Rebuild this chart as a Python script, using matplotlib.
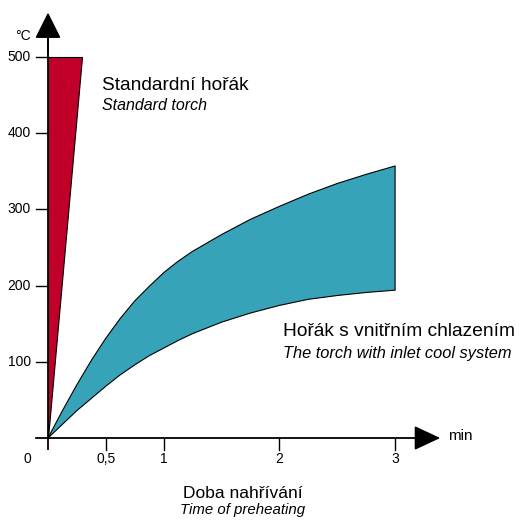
"""Heating time of standard torch vs. torch with inlet cooling."""
import matplotlib
matplotlib.use("Agg")
import matplotlib.pyplot as plt
import numpy as np

plt.rcParams["font.family"] = ["Liberation Sans", "DejaVu Sans"]

# standard torch: reaches 500 °C almost immediately
std_x = [0.0, 0.0, 0.29]
std_y = [0, 500, 500]

# torch with inlet cooling: band between two heating curves
cool_t = [0.0, 0.125, 0.25, 0.375, 0.5, 0.625, 0.75, 0.875, 1.0, 1.125, 1.25,
          1.5, 1.75, 2.0, 2.25, 2.5, 2.75, 3.0]
cool_upper = [0, 36, 70, 102, 131, 157, 180, 199, 217, 232, 245,
              267, 287, 304, 320, 334, 346, 357]
cool_lower = [0, 18, 36, 52, 68, 83, 96, 108, 118, 128, 137,
              152, 164, 174, 182, 187, 191, 194]

x_ticks = [0.5, 1, 2, 3]
x_tick_labels = ["0,5", "1", "2", "3"]
y_ticks = [100, 200, 300, 400, 500]

RED = "#c1002a"
TEAL = "#36a3b8"

W, H = 520, 520
X0, Y0 = 48, 438           # origin in pixels
PX_MIN = 115.7             # pixels per minute
PX_DEG = 0.762             # pixels per °C
XMAX, YMAX = 3.5, 560

fig = plt.figure(figsize=(5.2, 5.2), dpi=100)
ax = fig.add_axes([X0 / W, (H - Y0) / H, XMAX * PX_MIN / W, YMAX * PX_DEG / H])
ax.set_xlim(0, XMAX)
ax.set_ylim(0, YMAX)
ax.axis("off")

# bands
ax.fill(std_x, std_y, facecolor=RED, edgecolor="black", lw=0.8, zorder=2)
t = np.array(cool_t)
poly_x = np.concatenate([t, t[::-1]])
poly_y = np.concatenate([cool_upper, cool_lower[::-1]])
ax.fill(poly_x, poly_y, facecolor=TEAL, edgecolor="black", lw=0.8,
        joinstyle="round", zorder=2)

# axes with arrows
ax.plot([-0.1, 3.3], [0, 0], color="black", lw=1.3, clip_on=False, zorder=3)
ax.plot([0, 0], [-14, 530], color="black", lw=1.3, clip_on=False, zorder=3)
ax.annotate("", xy=(3.414, 0), xytext=(3.2, 0),
            arrowprops=dict(arrowstyle="-|>,head_length=0.9,head_width=0.42",
                            color="black", lw=1.3, mutation_scale=18),
            annotation_clip=False, zorder=4)
ax.annotate("", xy=(0, 562), xytext=(0, 500),
            arrowprops=dict(arrowstyle="-|>,head_length=0.9,head_width=0.45",
                            color="black", lw=1.3, mutation_scale=18),
            annotation_clip=False, zorder=4)

# ticks
tick_dx = 12 / PX_MIN
tick_dy = 12 / PX_DEG
for xv, lab in zip(x_ticks, x_tick_labels):
    ax.plot([xv, xv], [0, -tick_dy], color="black", lw=1, clip_on=False)
    ax.text(xv, -28, lab, ha="center", va="center", fontsize=10)
for yv in y_ticks:
    ax.plot([-tick_dx, 0], [yv, yv], color="black", lw=1, clip_on=False)
    ax.text(-17 / PX_MIN, yv, str(yv), ha="right", va="center", fontsize=10)
ax.text(-17 / PX_MIN, -28, "0", ha="right", va="center", fontsize=10)
ax.text(-25 / PX_MIN, 527, "°C", ha="center", va="center", fontsize=10)
ax.text(3.46, 3, "min", ha="left", va="center", fontsize=11)

# annotations
ax.text(0.467, 462, "Standardní hořák", ha="left", va="center", fontsize=13.8)
ax.text(0.467, 436, "Standard torch", ha="left", va="center", fontsize=11.5,
        style="italic")
ax.text(2.03, 140, "Hořák s vnitřním chlazením", ha="left", va="center",
        fontsize=13.8)
ax.text(2.03, 111, "The torch with inlet cool system", ha="left", va="center",
        fontsize=11.8, style="italic")

fig.text(243 / W, 1 - 493 / H, "Doba nahřívání", ha="center", va="center",
         fontsize=12.5)
fig.text(243 / W, 1 - 510 / H, "Time of preheating", ha="center", va="center",
         fontsize=10.8, style="italic")

fig.savefig("out.png", dpi=100)
